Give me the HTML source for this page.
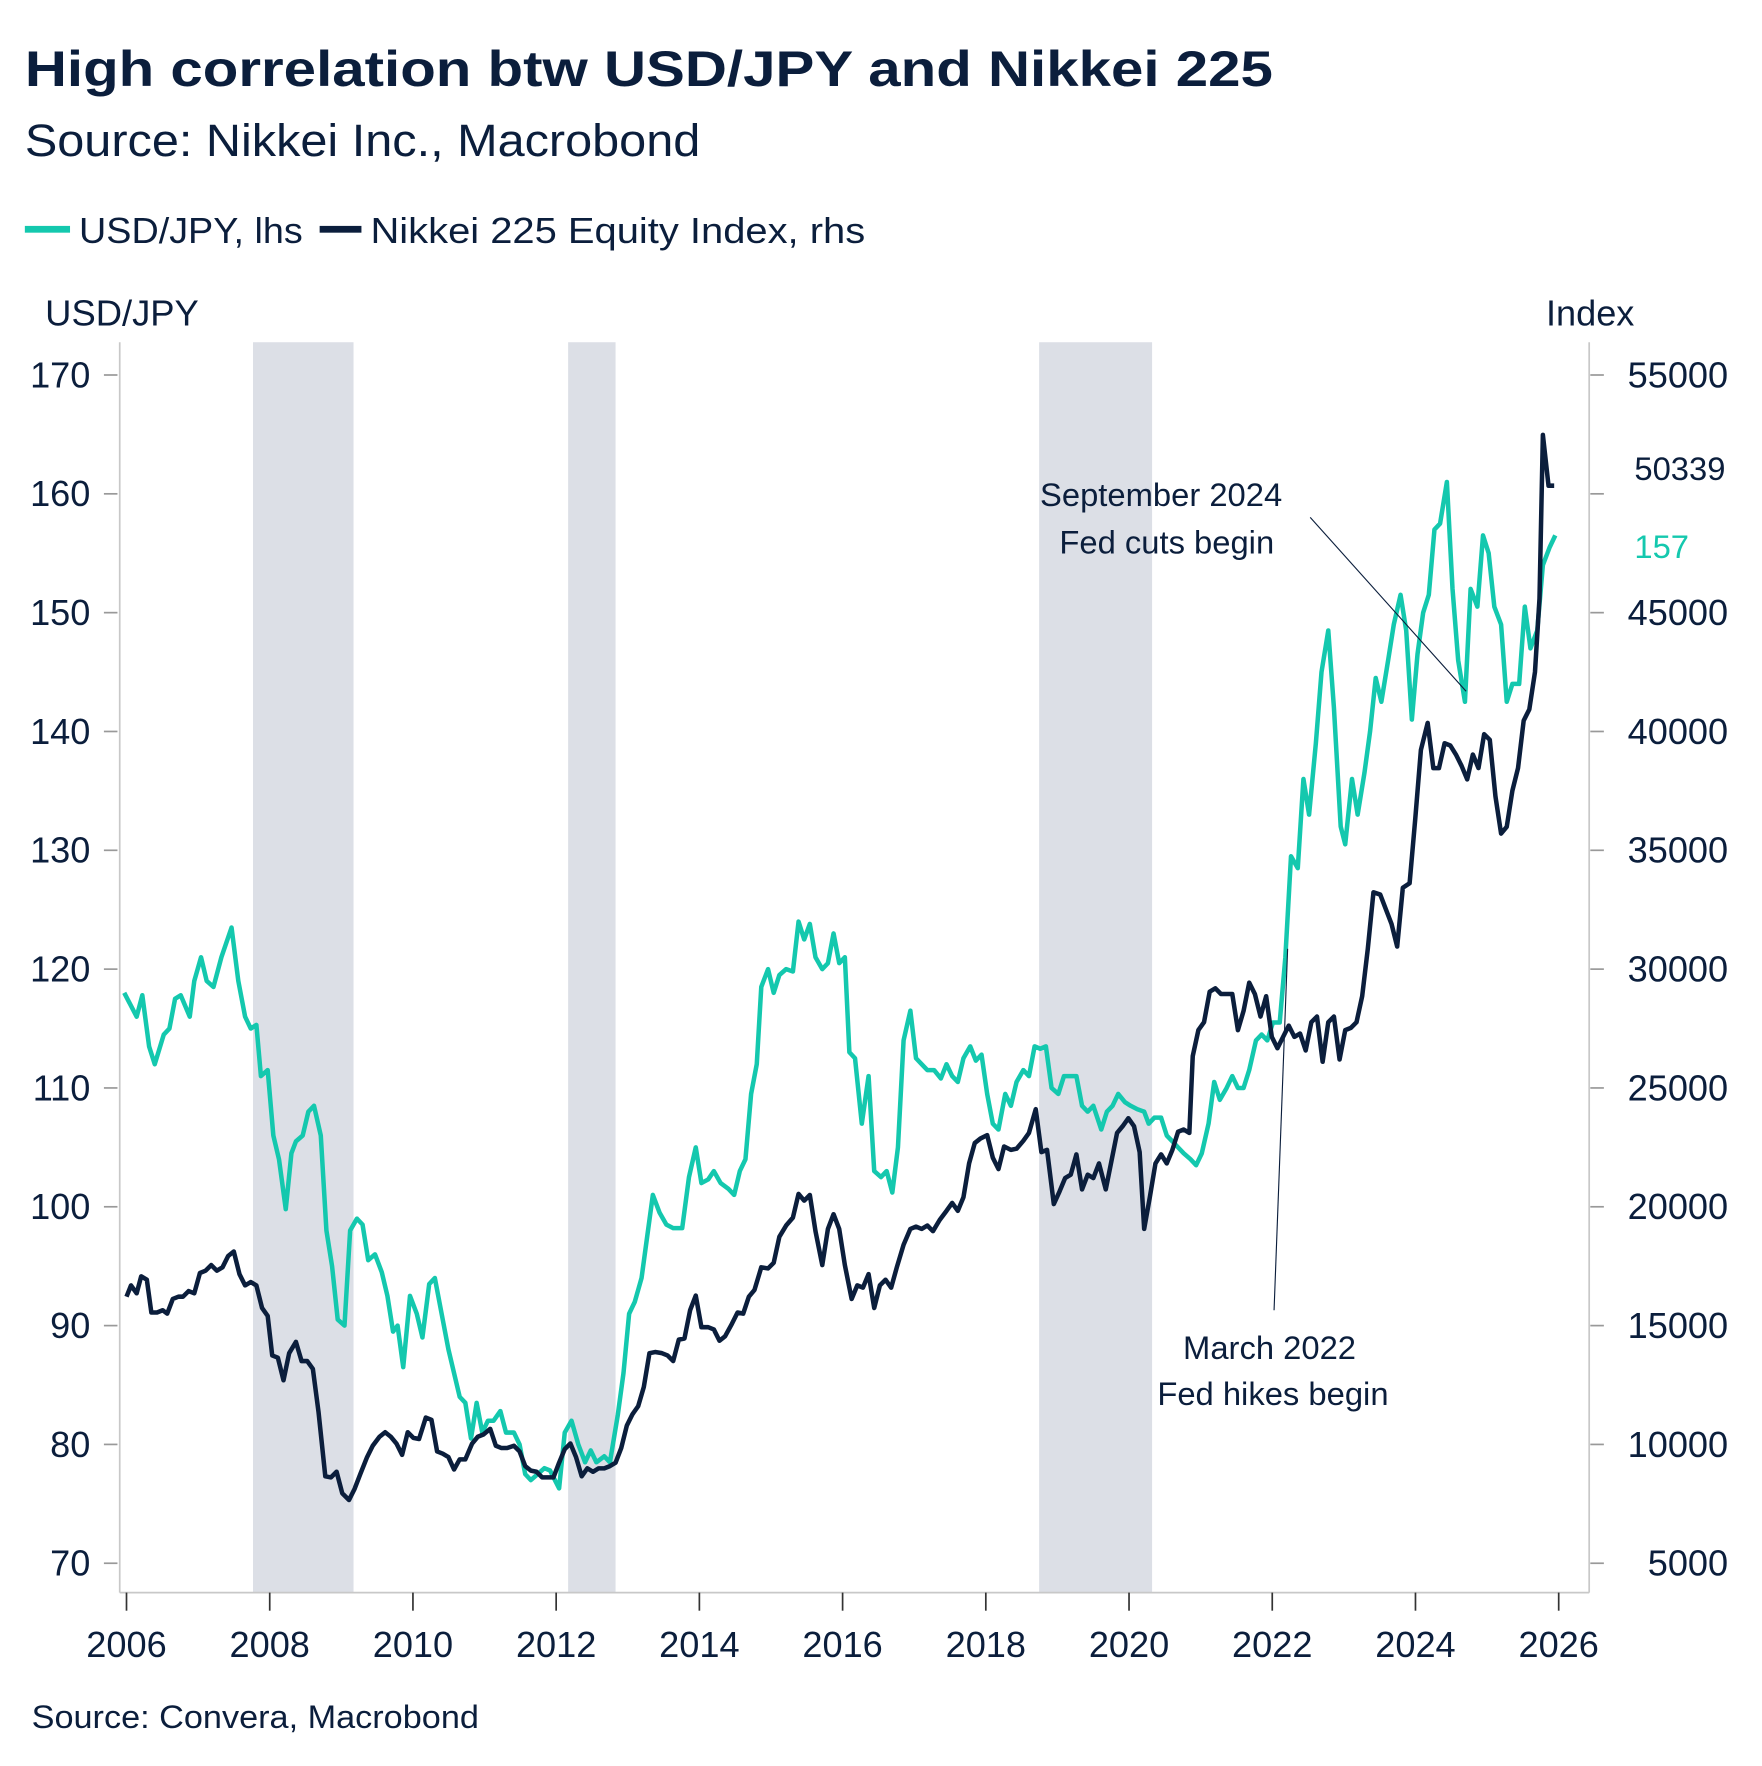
<!DOCTYPE html>
<html><head><meta charset="utf-8"><style>html,body{margin:0;padding:0;background:#fff}svg{display:block}</style></head>
<body>
<svg id="s" width="1762" height="1766" viewBox="0 0 1560 1563.5" preserveAspectRatio="none" xmlns="http://www.w3.org/2000/svg" font-family="Liberation Sans, sans-serif" fill="#0b1e3c">
<rect x="0" y="0" width="1560" height="1564" fill="#fff"/>
<text x="22" y="76" font-size="44" font-weight="bold" textLength="1105" lengthAdjust="spacingAndGlyphs">High correlation btw USD/JPY and Nikkei 225</text>
<text x="22" y="138" font-size="40" textLength="598" lengthAdjust="spacingAndGlyphs">Source: Nikkei Inc., Macrobond</text>
<rect x="22" y="200" width="40" height="6" fill="#14c8ae"/>
<text x="70" y="215" font-size="32" textLength="198" lengthAdjust="spacingAndGlyphs">USD/JPY, lhs</text>
<rect x="283" y="200" width="37" height="6" fill="#0b1e3c"/>
<text x="328" y="215" font-size="32" textLength="438" lengthAdjust="spacingAndGlyphs">Nikkei 225 Equity Index, rhs</text>
<text x="40" y="288" font-size="32" textLength="136" lengthAdjust="spacingAndGlyphs">USD/JPY</text>
<text x="1447" y="288" font-size="32" text-anchor="end">Index</text>
<g fill="#dcdfe6">
<rect x="224" y="303" width="89" height="1107"/>
<rect x="503" y="303" width="42" height="1107"/>
<rect x="920" y="303" width="100" height="1107"/>
</g>
<g stroke="#c8c8c8" stroke-width="1.5" fill="none">
<line x1="106" y1="303" x2="106" y2="1410"/>
<line x1="1407" y1="303" x2="1407" y2="1410"/>
<line x1="106" y1="1410" x2="1407" y2="1410"/>
</g>
<g id="ticks"></g>
<g id="lines"></g>
<line x1="1160" y1="458" x2="1298" y2="612" stroke="#0b1e3c" stroke-width="1"/>
<line x1="1128" y1="1160" x2="1140" y2="840" stroke="#0b1e3c" stroke-width="1"/>
<g font-size="29" text-anchor="middle">
<text x="1028" y="448">September 2024</text>
<text x="1033" y="490">Fed cuts begin</text>
<text x="1124" y="1203">March 2022</text>
<text x="1127" y="1244">Fed hikes begin</text>
</g>
<text x="1447" y="425" font-size="29">50339</text>
<text x="1447" y="494" font-size="29" fill="#14c8ae">157</text>
<text x="28" y="1530" font-size="29" textLength="396" lengthAdjust="spacingAndGlyphs">Source: Convera, Macrobond</text>
</svg>
<script>
var NS="http://www.w3.org/2000/svg";
function el(t,a,p,txt){var e=document.createElementNS(NS,t);for(var k in a)e.setAttribute(k,a[k]);if(txt!==undefined)e.textContent=txt;p.appendChild(e);return e;}
var tg=document.getElementById('ticks');
for(var i=0;i<=10;i++){var y=332+i*105.2;
el('line',{x1:92,x2:104,y1:y,y2:y,stroke:'#999','stroke-width':1.5},tg);
el('line',{x1:1408,x2:1420,y1:y,y2:y,stroke:'#999','stroke-width':1.5},tg);
el('text',{x:80,y:y+11,'font-size':32,'text-anchor':'end'},tg,String(170-i*10));
if(i!==1)el('text',{x:1530,y:y+11,'font-size':32,'text-anchor':'end'},tg,String(55000-i*5000));}
for(var j=0;j<=10;j++){var x=112+j*126.8;
el('line',{x1:x,x2:x,y1:1410,y2:1426,stroke:'#333','stroke-width':1.5},tg);
el('text',{x:x,y:1467,'font-size':32,'text-anchor':'middle'},tg,String(2006+2*j));}
var usd=[110,118,121,116,126,117.8,132,113.5,137,112,145,114.5,150,115,155,117.5,160,117.8,168,116,172,119,178,121,183,119,189,118.5,196,121,205,123.5,211,119,217,116,222,115,227,115.3,231,111,237,111.5,242,106,247,104,253,99.8,258,104.5,262,105.5,268,106,273,108,278,108.5,284,106,289,98,294,95,299,90.5,305,90,310,98,316,99,321,98.5,326,95.5,332,96,338,94.5,343,92.5,348,89.5,352,90,357,86.5,363,92.5,369,91,374,89,380,93.5,385,94,391,91,397,88,402,86,407,84,412,83.5,417,80.5,422,83.5,427,81,432,82,437,82,443,82.8,448,81,455,81,460,80,465,77.5,470,77,476,77.5,482,78,487,77.8,495,76.3,500,81,506,82,512,80,518,78.5,523,79.5,528,78.5,535,79,540,78.5,547,82.5,552,86,557,91,562,92,568,94,573,97.5,578,101,584,99.5,590,98.5,596,98.2,604,98.2,610,102.5,616,105,621,102,627,102.3,632,103,638,102,645,101.5,650,101,655,103,660,104,665,109.5,670,112,674,118.5,680,120,685,118,690,119.5,696,120,702,119.8,707,124,712,122.5,717,123.8,722,121,728,120,733,120.5,738,123,743,120.5,748,121,752,113,757,112.5,763,107,769,111,774,103,780,102.5,785,103,790,101.2,795,105,800,114,806,116.5,811,112.5,816,112,821,111.5,827,111.5,833,110.8,838,112,843,111,848,110.5,853,112.5,859,113.5,864,112.3,869,112.8,874,109.5,879,107,884,106.5,890,109.5,895,108.5,900,110.5,906,111.5,911,111,916,113.5,921,113.3,926,113.5,931,110,937,109.5,942,111,947,111,953,111,958,108.5,963,108,968,108.5,975,106.5,980,108,985,108.5,990,109.5,996,108.8,1001,108.5,1007,108.2,1013,108,1017,107,1022,107.5,1028,107.5,1033,106,1038,105.5,1043,105,1048,104.5,1054,104,1059,103.5,1064,104.5,1070,107,1075,110.5,1080,109,1086,110,1091,111,1096,110,1101,110,1106,111.5,1112,114,1117,114.5,1122,114,1127,115.5,1133,115.5,1138,121,1143,129.5,1149,128.5,1154,136,1159,133,1165,139,1170,145,1176,148.5,1181,142,1187,132,1191,130.5,1197,136,1202,133,1208,136.5,1213,140,1218,144.5,1223,142.5,1229,146,1234,149,1240,151.5,1245,148.5,1250,141,1255,146.5,1260,150,1265,151.5,1270,157,1275,157.5,1281,161,1286,152,1291,146,1297,142.5,1302,152,1308,150.5,1313,156.5,1318,155,1323,150.5,1329,149,1334,142.5,1339,144,1345,144,1350,150.5,1355,147,1361,148.5,1366,154,1372,155.5,1377,156.5];
var pts=[];for(var k=0;k<usd.length;k+=2)pts.push(usd[k]+','+(332+(170-usd[k+1])*10.52).toFixed(1));
var nk="112,1148 116,1138 121,1145 125,1130 130,1133 134,1162 139,1162 144,1160 148,1163 153,1150 158,1148 162,1148 167,1143 172,1145 177,1127 182,1125 187,1120 192,1125 197,1122 202,1112 207,1108 212,1128 217,1138 222,1135 227,1138 232,1158 237,1165 241,1200 246,1202 251,1222 256,1198 262,1188 267,1205 272,1205 277,1212 282,1250 288,1307 293,1308 298,1303 303,1322 309,1328 314,1318 319,1305 325,1290 330,1280 336,1272 341,1268 346,1272 351,1278 356,1288 361,1268 366,1273 371,1274 377,1255 382,1257 387,1285 392,1287 397,1290 402,1301 407,1292 412,1292 418,1278 423,1272 428,1270 434,1265 439,1280 444,1282 449,1282 455,1280 460,1285 465,1298 470,1302 475,1303 480,1308 485,1308 490,1308 495,1295 500,1283 505,1278 510,1290 515,1307 520,1300 525,1303 530,1300 535,1300 540,1298 545,1295 550,1282 555,1262 560,1252 565,1245 570,1228 575,1198 580,1197 586,1198 591,1200 596,1205 601,1186 606,1185 611,1160 616,1147 621,1175 627,1175 632,1177 637,1187 642,1183 648,1172 653,1162 658,1163 663,1148 668,1142 674,1122 680,1123 685,1118 690,1095 696,1085 702,1078 707,1057 712,1063 717,1058 722,1090 728,1120 733,1088 738,1075 743,1088 748,1120 754,1150 759,1138 764,1140 769,1128 774,1158 779,1138 784,1133 789,1140 794,1122 800,1102 806,1088 811,1086 816,1088 821,1085 826,1090 832,1080 838,1072 843,1065 848,1072 853,1060 858,1030 863,1012 868,1008 874,1005 879,1025 884,1035 889,1015 895,1018 900,1017 906,1010 911,1003 917,982 922,1020 927,1018 933,1066 938,1055 943,1043 948,1040 953,1022 958,1053 963,1040 968,1043 973,1030 979,1053 984,1028 989,1003 994,997 999,990 1004,997 1009,1020 1013,1088 1018,1060 1023,1030 1028,1022 1033,1030 1038,1018 1043,1002 1048,1000 1053,1003 1056,935 1061,912 1066,905 1071,878 1076,875 1081,880 1086,880 1091,880 1096,912 1101,895 1106,870 1111,880 1116,900 1121,882 1126,918 1131,928 1136,918 1141,908 1146,918 1151,915 1156,930 1161,905 1166,900 1171,940 1176,905 1181,900 1186,938 1191,912 1196,910 1201,905 1206,882 1211,840 1216,790 1222,792 1227,805 1232,818 1237,838 1242,786 1248,782 1253,725 1258,664 1264,640 1269,680 1274,680 1279,658 1284,660 1289,668 1294,678 1299,690 1304,668 1309,680 1314,650 1319,655 1324,705 1329,738 1334,732 1339,700 1344,680 1349,638 1354,628 1359,595 1363,530 1366,385 1371,430 1376,430";
var lg=document.getElementById('lines');
el('polyline',{points:pts.join(' '),fill:'none',stroke:'#14c8ae','stroke-width':4,'stroke-linejoin':'round'},lg);
el('polyline',{points:nk,fill:'none',stroke:'#0b1e3c','stroke-width':4,'stroke-linejoin':'round'},lg);
</script>
</body></html>
